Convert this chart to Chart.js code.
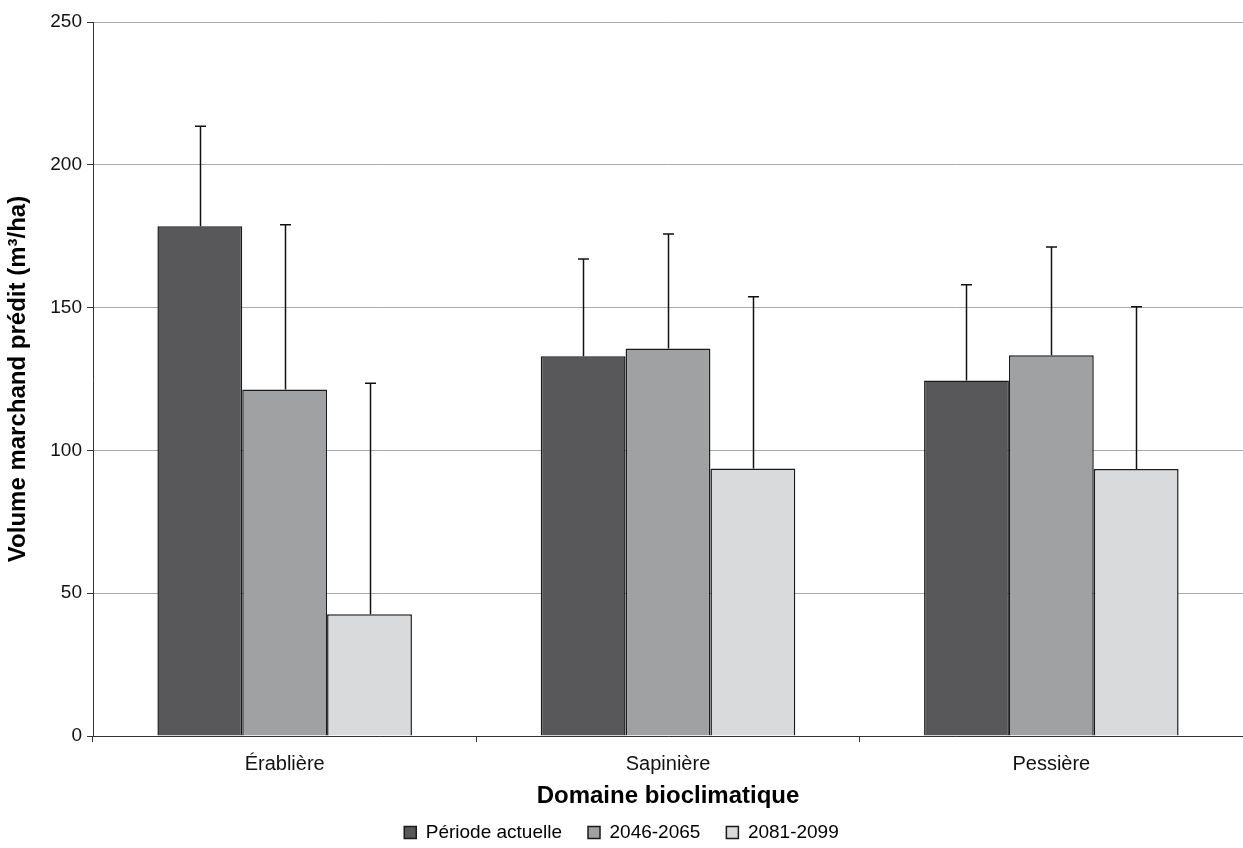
<!DOCTYPE html>
<html>
<head>
<meta charset="utf-8">
<script src="https://cdn.jsdelivr.net/npm/chart.js@4/dist/chart.umd.min.js"></script>
<style>
  html, body { margin: 0; padding: 0; background: #fff; }
  #wrap { width: 1243px; height: 848px; position: relative; }
</style>
</head>
<body>
<div id="wrap"><canvas id="volChart"></canvas></div>
<script>
'use strict';

// --- data ---
const domaines = ['Érablière', 'Sapinière', 'Pessière'];
const periodes = ['Période actuelle', '2046-2065', '2081-2099'];
const volActuel = [178.5, 133.0, 124.5];
const vol2046   = [121.3, 135.7, 133.3];
const vol2081   = [42.6, 93.7, 93.5];
// top of the (upper-only) error whiskers
const hautActuel = [213.5, 167.0, 158.0];
const haut2046   = [179.0, 175.8, 171.2];
const haut2081   = [123.5, 153.8, 150.3];
const yTicks = [0, 50, 100, 150, 200, 250];

const FONT = "'Liberation Sans', Arial, sans-serif";
const couleurs = ['#58585a', '#a0a1a3', '#d9dadc'];
const hauts = [hautActuel, haut2046, haut2081];

// draw the whiskers from bar top up to the value in hauts[]
const errorBars = {
  id: 'errorBars',
  afterDatasetsDraw(chart) {
    const ctx = chart.ctx;
    const y = chart.scales.y;
    ctx.save();
    ctx.strokeStyle = '#111';
    ctx.lineWidth = 1.5;
    chart.data.datasets.forEach((ds, i) => {
      const meta = chart.getDatasetMeta(i);
      meta.data.forEach((bar, j) => {
        const top = y.getPixelForValue(hauts[i][j]);
        const x = Math.round(bar.x) + 0.5;
        ctx.beginPath();
        ctx.moveTo(x, bar.y);
        ctx.lineTo(x, top);
        ctx.moveTo(x - 5.5, top);
        ctx.lineTo(x + 5.5, top);
        ctx.stroke();
      });
    });
    ctx.restore();
  }
};

new Chart(document.getElementById('volChart'), {
  type: 'bar',
  data: {
    labels: domaines,
    datasets: [volActuel, vol2046, vol2081].map((vals, i) => ({
      label: periodes[i],
      data: vals,
      backgroundColor: couleurs[i],
      borderColor: '#1a1a1a',
      borderWidth: 1.5,
      borderSkipped: 'bottom',
      categoryPercentage: 0.664,
      barPercentage: 1.0
    }))
  },
  options: {
    responsive: true,
    maintainAspectRatio: false,
    animation: false,
    layout: { padding: { top: 22, right: 0, left: 0, bottom: 0 } },
    plugins: {
      tooltip: { enabled: false },
      legend: {
        position: 'bottom',
        maxHeight: 51,
        labels: {
          font: { family: FONT, size: 19 },
          color: '#000',
          boxWidth: 12,
          boxHeight: 12,
          padding: 26
        }
      }
    },
    scales: {
      x: {
        afterFit: (axis) => { axis.height = 61; },
        grid: { offset: true, drawOnChartArea: false, drawTicks: true, tickLength: 6, color: '#333' },
        border: { color: '#333', width: 1 },
        ticks: { font: { family: FONT, size: 20 }, color: '#111', padding: 10 },
        title: {
          display: true,
          text: 'Domaine bioclimatique',
          font: { family: FONT, size: 24, weight: 'bold' },
          color: '#000',
          padding: { top: 0, bottom: -14 }
        }
      },
      y: {
        min: 0,
        max: 250,
        afterFit: (axis) => { axis.width = 93; },
        afterBuildTicks: (axis) => { axis.ticks = yTicks.map(v => ({ value: v })); },
        grid: { color: '#aaa', lineWidth: 1, tickLength: 6, tickColor: '#333' },
        border: { color: '#333', width: 1 },
        ticks: { font: { family: FONT, size: 19 }, color: '#111', padding: 5 },
        title: {
          display: true,
          text: 'Volume marchand prédit (m³/ha)',
          font: { family: FONT, size: 24, weight: 'bold' },
          color: '#000',
          padding: { top: 4, bottom: 0 }
        }
      }
    }
  },
  plugins: [errorBars]
});
</script>
</body>
</html>
